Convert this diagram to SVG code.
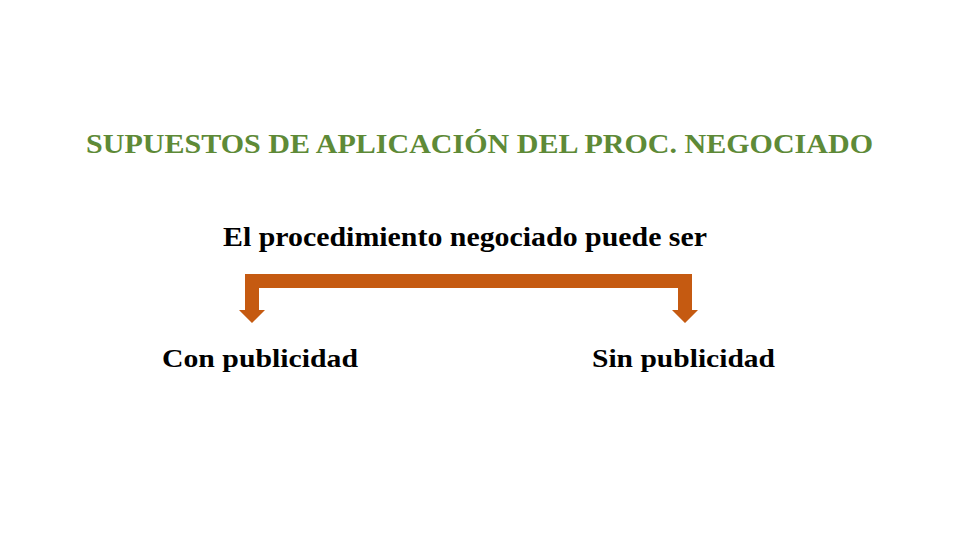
<svg xmlns="http://www.w3.org/2000/svg" width="960" height="540" viewBox="0 0 960 540">
<style>
.t{font-family:"Liberation Serif","Times New Roman",serif;font-weight:bold;}
.title{fill:#5e8a37;font-size:28px;}
.b{fill:#000;font-size:27px;}
.s{fill:#000;font-size:25px;}
</style>
<rect width="960" height="540" fill="#fff"/>
<g id="title"><text class="t title" x="86" y="153" textLength="787" lengthAdjust="spacingAndGlyphs">SUPUESTOS DE APLICACIÓN DEL PROC. NEGOCIADO</text></g>
<g id="root"><text class="t b" x="223" y="246" textLength="484" lengthAdjust="spacingAndGlyphs">El procedimiento negociado puede ser</text></g>
<g id="connectors">
<path d="M245,274 H692 V310 H698 L685,323 L672,310 H678 V288 H259 V310 H265 L252,323 L239,310 H245 Z" fill="#c55a11"/>
</g>
<g id="con"><text class="t s" x="162" y="367" textLength="196" lengthAdjust="spacingAndGlyphs">Con publicidad</text></g>
<g id="sin"><text class="t s" x="592" y="367" textLength="183" lengthAdjust="spacingAndGlyphs">Sin publicidad</text></g>
</svg>
